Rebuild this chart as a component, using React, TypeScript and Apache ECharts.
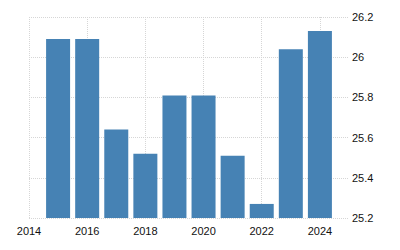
import React, { useEffect, useRef } from "react";
import * as echarts from "echarts";

const years = [2015, 2016, 2017, 2018, 2019, 2020, 2021, 2022, 2023, 2024];
const values = [26.09, 26.09, 25.64, 25.52, 25.81, 25.81, 25.51, 25.27, 26.04, 26.13];
const yTicks = [25.2, 25.4, 25.6, 25.8, 26, 26.2];
const xRange = [2014, 2025];

export default function App() {
  const ref = useRef<HTMLDivElement>(null);
  useEffect(() => {
    if (!ref.current) return;
    const chart = echarts.init(ref.current, null, { renderer: "svg" });
    const gridLine = { show: true, lineStyle: { color: "#d6d6d6", type: [1, 1], width: 1 } };
    chart.setOption({
      animation: false,
      grid: { left: 29, right: 51, top: 17, bottom: 32 },
      xAxis: {
        type: "value",
        min: xRange[0],
        max: xRange[1],
        interval: 2,
        axisLine: { show: false },
        axisTick: { show: false },
        splitLine: { ...gridLine, showMaxLine: false },
        axisLabel: {
          showMaxLabel: false,
          color: "#111",
          fontFamily: "Liberation Sans, Arial, sans-serif",
          fontSize: 11,
          margin: 7,
          formatter: (v: number) => String(v),
        },
      },
      yAxis: {
        type: "value",
        position: "right",
        min: yTicks[0],
        max: yTicks[yTicks.length - 1],
        interval: 0.2,
        axisLine: { show: false },
        axisTick: { show: false },
        splitLine: gridLine,
        axisLabel: {
          color: "#111",
          fontFamily: "Liberation Sans, Arial, sans-serif",
          fontSize: 11,
          margin: 3,
        },
      },
      series: [
        {
          type: "bar",
          data: years.map((y, i) => [y, values[i]]),
          barWidth: 24,
          itemStyle: { color: "#4682b4" },
        },
      ],
    });
    return () => chart.dispose();
  }, []);
  return <div ref={ref} style={{ width: 400, height: 250, position: "absolute", left: 0, top: 0 }} />;
}
